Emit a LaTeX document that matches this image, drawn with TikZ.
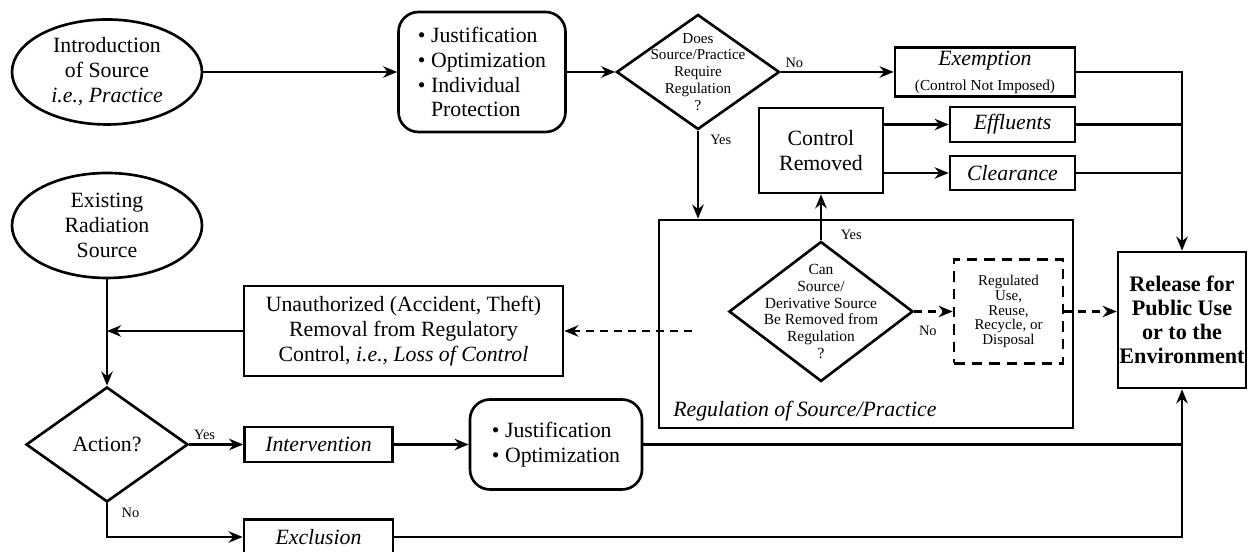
\documentclass[tikz,border=0pt]{standalone}
\usepackage{fontspec}
\setmainfont{Liberation Serif}
\usetikzlibrary{shapes.geometric,arrows.meta}
\tikzset{
  mainfont/.style={font=\fontsize{12.4}{14.2}\selectfont},
  smallfont/.style={font=\fontsize{8.6}{9.6}\selectfont},
  yesno/.style={font=\fontsize{8.2}{9}\selectfont, inner sep=2pt},
  source/.style={ellipse, draw, line width=1.5pt, minimum width=3.8cm, minimum height=2.1cm, inner sep=0pt, align=center, mainfont},
  block/.style={rectangle, draw, line width=1.5pt, inner sep=0pt, align=center, mainfont},
  roundblock/.style={block, rounded corners=0.4cm, align=left},
  question/.style={diamond, draw, line width=1.5pt, inner sep=-0.6cm, align=center, smallfont},
  pathway/.style={line width=1.4pt, -{Stealth[length=8pt,width=6.5pt]}},
  trunk/.style={line width=1.4pt},
  lossline/.style={line width=1.4pt, dash pattern=on 4.5pt off 3.5pt, -{Stealth[length=8pt,width=6.5pt]}},
}

\begin{document}
\begin{tikzpicture}
\useasboundingbox (0,0) rectangle (24.96,11.04);
\node[source] (intro) at (2.14,9.60) {Introduction\\of Source\\\textit{i.e., Practice}};
\node[roundblock, minimum width=3.34cm, minimum height=2.40cm] (checks) at (9.64,9.60) {\textbullet\ Justification\\\textbullet\ Optimization\\\textbullet\ Individual\\\phantom{\textbullet\ }Protection};
\node[question, minimum width=3.26cm, minimum height=2.30cm] (needreg) at (13.96,9.60) {Does\\Source/Practice\\Require\\Regulation\\?};
\node[block, minimum width=3.60cm, minimum height=0.98cm] (exempt) at (19.70,9.60) {\textit{Exemption}\\{\fontsize{8.7}{10}\selectfont(Control Not Imposed)}};
\node[block, minimum width=2.48cm, minimum height=1.70cm] (removed) at (16.42,8.03) {Control\\Removed};
\node[block, minimum width=2.50cm, minimum height=0.70cm] (effluents) at (20.25,8.55) {\textit{Effluents}};
\node[block, minimum width=2.50cm, minimum height=0.68cm] (clearance) at (20.25,7.58) {\textit{Clearance}};
\node[block, minimum width=8.28cm, minimum height=4.16cm] (regulation) at (17.32,4.56) {};
\node[mainfont, anchor=base west, inner sep=0pt] (reglabel) at (13.46,2.70) {\textit{Regulation of Source/Practice}};
\node[question, minimum width=3.68cm, minimum height=2.80cm, font=\fontsize{8.8}{9.5}\selectfont] (removable) at (16.42,4.81) {Can\\Source/\\Derivative Source\\Be Removed from\\Regulation\\?};
\node[block, dash pattern=on 6pt off 4pt, minimum width=2.18cm, minimum height=2.08cm, font=\fontsize{8.5}{8.4}\selectfont] (regulated) at (20.17,4.81) {Regulated\\Use,\\Reuse,\\Recycle, or\\Disposal};
\node[block, minimum width=2.56cm, minimum height=2.72cm, font=\fontsize{12.6}{13.6}\selectfont\bfseries] (release) at (23.64,4.64) {Release for\\Public Use\\or to the\\Environment};
\node[source] (existing) at (2.14,6.53) {Existing\\Radiation\\Source};
\node[block, minimum width=6.38cm, minimum height=1.80cm] (loss) at (8.07,4.42) {Unauthorized (Accident, Theft)\\Removal from Regulatory\\Control, \textit{i.e., Loss of Control}};
\node[question, minimum width=3.24cm, minimum height=2.30cm, mainfont] (action) at (2.14,2.15) {Action?};
\node[block, minimum width=2.96cm, minimum height=0.70cm] (intervention) at (6.37,2.15) {\textit{Intervention}};
\node[roundblock, minimum width=3.44cm, minimum height=1.80cm] (checks2) at (11.12,2.15) {\textbullet\ Justification\\\textbullet\ Optimization};
\node[block, minimum width=2.98cm, minimum height=0.70cm] (exclusion) at (6.37,0.30) {\textit{Exclusion}};
\coordinate (lossstart) at (13.84,4.42);
\draw[pathway] (intro.east) -- (checks.west);
\draw[pathway] (checks.east) -- (needreg.west);
\draw[pathway] (needreg.east) -- node[yesno, anchor=south west, pos=0] (no1) {No} (exempt.west);
\draw[pathway] (needreg.south) -- node[yesno, anchor=north west, pos=0, xshift=0.15cm] (yes1) {Yes} (needreg.south |- regulation.north);
\draw[pathway] (removable.north) -- node[yesno, anchor=west, pos=0, xshift=0.3cm, yshift=0.1cm] (yes2) {Yes} (removed.south);
\draw[pathway] (removed.east |- effluents) -- (effluents.west);
\draw[pathway] (removed.east |- clearance) -- (clearance.west);
\draw[pathway] (exempt.east) -| (release.north);
\draw[trunk] (effluents.east) -- (effluents.east -| release.north);
\draw[trunk] (clearance.east) -- (clearance.east -| release.north);
\draw[lossline] (removable.east) -- node[yesno, anchor=north west, pos=0, yshift=-0.2cm] (no2) {No} (regulated.west);
\draw[lossline] (regulated.east) -- (regulated.east -| release.west);
\draw[lossline] (lossstart) -- (loss.east);
\draw[pathway] (existing.south) -- (action.north);
\draw[pathway] (loss.west) -- (loss.west -| existing.south);
\draw[pathway] (action.east) -- node[yesno, anchor=south west, pos=0] (yes3) {Yes} (intervention.west);
\draw[pathway] (action.south) |- node[yesno, anchor=north west, pos=0, xshift=0.2cm] (no3) {No} (exclusion.west);
\draw[pathway] (intervention.east) -- (checks2.west);
\draw[trunk] (checks2.east) -- (checks2.east -| release.south);
\draw[pathway] (exclusion.east) -| (release.south);
\end{tikzpicture}
\end{document}
